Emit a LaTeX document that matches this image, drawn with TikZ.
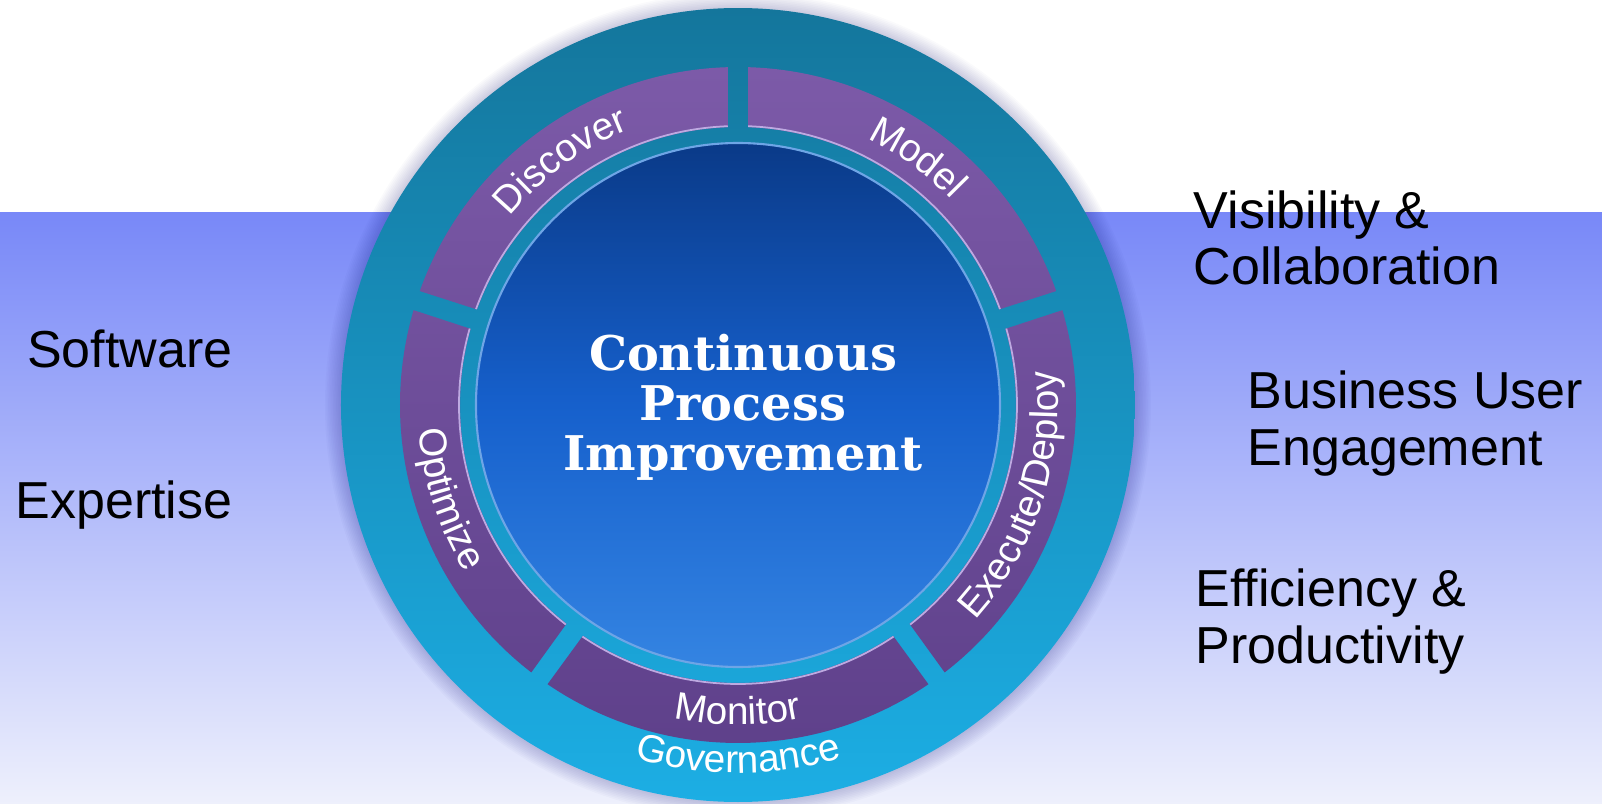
\documentclass[tikz,border=0pt]{standalone}
\usepackage{fontspec}
\setmainfont{Liberation Sans}
\newfontfamily\slabfont{DejaVu Serif}
\usetikzlibrary{decorations.text}
\definecolor{bandtop}{RGB}{120,136,248}
\definecolor{bandbot}{RGB}{238,240,252}
\definecolor{ringtop}{RGB}{20,118,156}
\definecolor{ringbot}{RGB}{28,174,228}
\definecolor{segtop}{RGB}{124,90,168}
\definecolor{segbot}{RGB}{94,64,138}
\definecolor{segrim}{RGB}{190,170,225}
\definecolor{hubtop}{RGB}{10,58,136}
\definecolor{hubmid}{RGB}{22,96,204}
\definecolor{hubbot}{RGB}{52,132,226}
\definecolor{hubrim}{RGB}{110,165,230}
\newcommand\arcfont{\fontsize{11}{11}\selectfont\color{white}}
\tikzset{
  sidetext/.style={font=\fontsize{14.8}{16.2}\selectfont, align=left, inner sep=0pt},
  arclabel/.style={decorate, decoration={text along path, text align=center, text={|\arcfont|#1}}}
}
\begin{document}
\begin{tikzpicture}[x=0.1mm, y=0.1mm]
	\useasboundingbox (-738,-399) rectangle (864,405);
	\fill[white] (-738,-399) rectangle (864,405);
	\shade[top color=bandtop, bottom color=bandbot] (-738,-399) rectangle (864,193);
	\foreach \i in {1,...,10}
		\fill[black!60!blue, opacity=0.018] (0,0) circle (397+1.6*\i);
	\shade[top color=ringtop, bottom color=ringbot] (0,0) circle (397);
	\shade[top color=segtop, bottom color=segbot]
		\foreach \a in {-126,-54,18,90,162} {
			(\a+1.7:338) arc[start angle=\a+1.7, end angle=\a+70.3, radius=338]
			-- (\a+69.9:278) arc[start angle=\a+69.9, end angle=\a+2.1, radius=278] -- cycle
		};
	\foreach \a in {-126,-54,18,90,162}
		\draw[segrim, line width=0.5pt] (\a+69.9:279) arc[start angle=\a+69.9, end angle=\a+2.1, radius=279];
	\shade[top color=hubtop, bottom color=hubbot, middle color=hubmid] (0,0) circle (262);
	\draw[hubrim, line width=0.6pt] (0,0) circle (262);
	\node[font=\slabfont\bfseries\fontsize{13.6}{14.2}\selectfont, text=white, align=center, anchor=base] (cpi) at (5,-65) {Continuous\\Process\\Improvement};
	\path[arclabel=Discover] (156:296) arc[start angle=156, end angle=96, radius=296];
	\path[arclabel=Model] (84:296) arc[start angle=84, end angle=24, radius=296];
	\path[arclabel=Execute/Deploy] (-50:320) arc[start angle=-50, end angle=14, radius=320];
	\path[arclabel=Monitor] (-120:320) arc[start angle=-120, end angle=-60, radius=320];
	\path[arclabel=Optimize] (170:320) arc[start angle=170, end angle=226, radius=320];
	\path[arclabel=Governance] (-125:368) arc[start angle=-125, end angle=-55, radius=368];
	\node[sidetext, anchor=base east] (software) at (-505,38) {Software};
	\node[sidetext, anchor=base east] (expertise) at (-505,-113) {Expertise};
	\node[sidetext, anchor=base west] (visibility) at (455,120) {Visibility \&\\Collaboration};
	\node[sidetext, anchor=base west] (engagement) at (509,-60) {Business User\\Engagement};
	\node[sidetext, anchor=base west] (efficiency) at (457,-258) {Efficiency \&\\Productivity};
\end{tikzpicture}
\end{document}
